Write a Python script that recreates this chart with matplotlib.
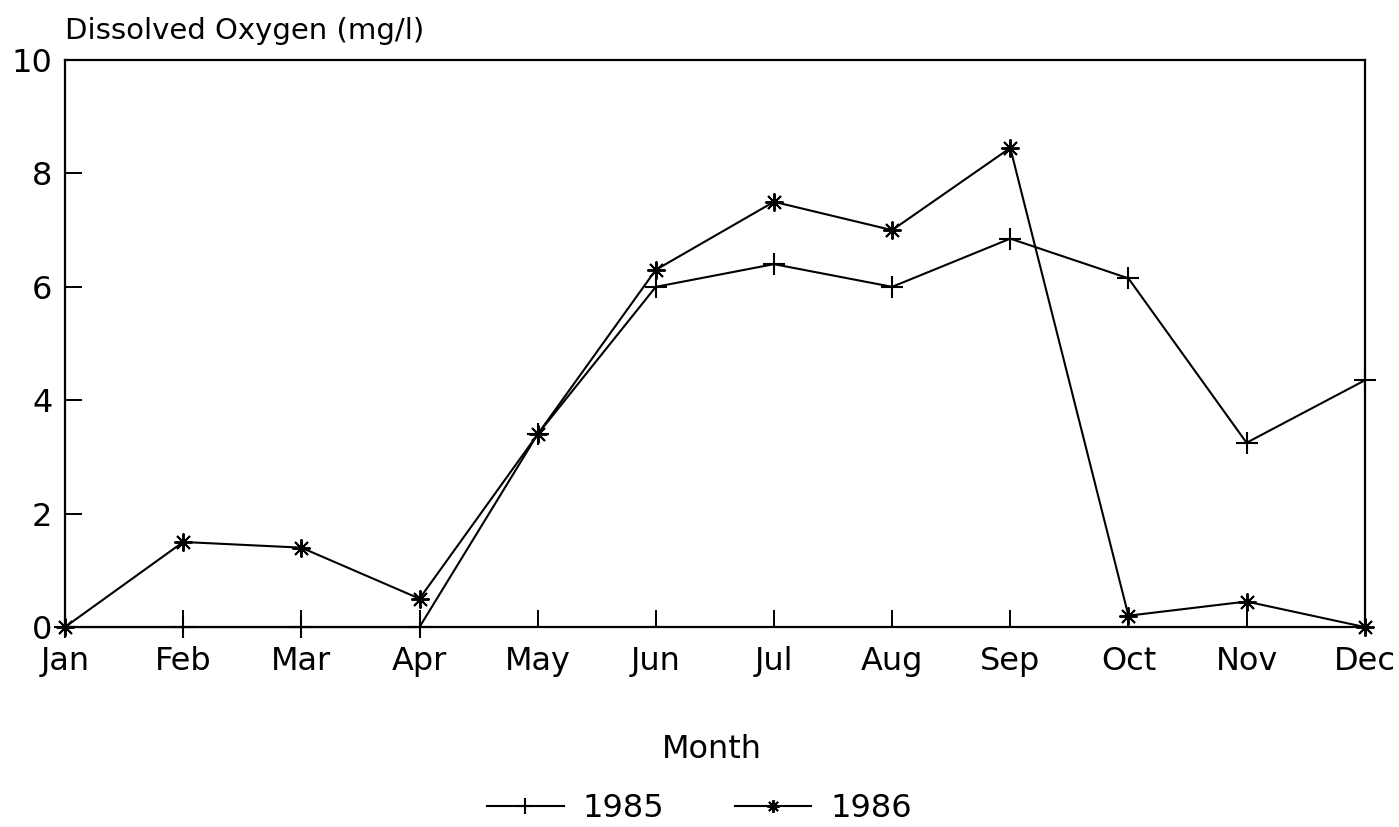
import matplotlib
matplotlib.use("Agg")
import matplotlib.pyplot as plt

months = ["Jan", "Feb", "Mar", "Apr", "May", "Jun", "Jul", "Aug", "Sep", "Oct", "Nov", "Dec"]
do_1985 = [0, 0, 0, 0, 3.4, 6.0, 6.4, 6.0, 6.85, 6.15, 3.25, 4.35]
do_1986 = [0, 1.5, 1.4, 0.5, 3.4, 6.3, 7.5, 7.0, 8.45, 0.2, 0.45, 0]

fig = plt.figure(figsize=(13.99, 8.27), dpi=100)
ax = fig.add_axes([0.0465, 0.2418, 0.929, 0.6856])

x = list(range(len(months)))
ax.plot(x, do_1985, color="black", lw=1.5, marker="+", ms=16, mew=1.5, label="1985", clip_on=False)
ax.plot(x, do_1986, color="black", lw=1.5, marker=(8, 2, 0), ms=13, mew=1.4, label="1986", clip_on=False)

ax.set_xlim(0, 11)
ax.set_ylim(0, 10)
ax.set_xticks(x)
ax.set_xticklabels(months)
ax.set_yticks([0, 2, 4, 6, 8, 10])
ax.tick_params(direction="in", length=12, width=1.4, labelsize=23, colors="black")
ax.tick_params(axis="x", pad=14)
ax.tick_params(axis="y", pad=9)
for s in ax.spines.values():
    s.set_linewidth(1.6)

fig.text(0.0465, 0.962, "Dissolved Oxygen (mg/l)", fontsize=21, ha="left", va="center")
fig.text(0.509, 0.094, "Month", fontsize=23, ha="center", va="center")

fig.legend(loc="center", bbox_to_anchor=(0.5, 0.022), ncol=2, frameon=False, fontsize=23,
           handlelength=2.4, columnspacing=2.2, handletextpad=0.6, markerscale=0.7)

fig.savefig("out.png", dpi=100)
